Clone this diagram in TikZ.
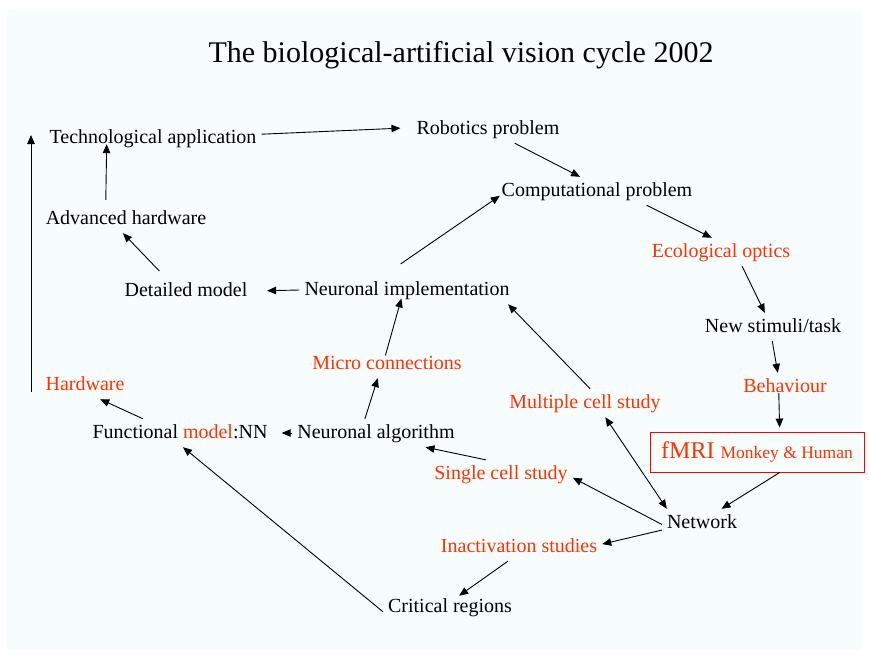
\documentclass[tikz,border=0pt]{standalone}
\usepackage{fontspec}
\setmainfont{Liberation Serif}
\usetikzlibrary{positioning}
\usetikzlibrary{arrows.meta}
\definecolor{slidered}{RGB}{255,51,0}
\definecolor{slidebg}{RGB}{247,252,253}
\tikzset{
    mynode/.style = {inner sep=5pt, text height=14pt, text depth=4pt, font=\fontsize{20}{24}\selectfont},
    mynoder/.style = {mynode, text=slidered},
    fmrinode/.style = {draw=red, line width=0.9pt, text=slidered, minimum width=214pt, minimum height=40pt, inner sep=0pt, text height=16.5pt, text depth=3.5pt},
    edgen/.style = {-{Triangle[length=9pt,width=7.5pt]}, line width=0.9pt},
    edged/.style = {{Triangle[length=9pt,width=7.5pt]}-{Triangle[length=9pt,width=7.5pt]}, line width=0.9pt}
}

\begin{document}
\begin{tikzpicture}[x=1pt, y=-1pt]
  \useasboundingbox (0,0) rectangle (869,659);
  \fill[slidebg] (7,10) rectangle (862,650);

  \node[font=\fontsize{30}{36}\selectfont] (title) at (461,55) {The biological-artificial vision cycle 2002};

  \node[mynode] (tech) at (153,138) {Technological application};
  \node[mynode] (robot) at (488,129) {Robotics problem};
  \node[mynode] (comp) at (597,191) {Computational problem};
  \node[mynoder] (eco) at (721,252) {Ecological optics};
  \node[mynode] (newst) at (773,327) {New stimuli/task};
  \node[mynoder] (behav) at (785,387) {Behaviour};
  \node[fmrinode] (fmri) at (757,452) {{\fontsize{24}{28}\selectfont fMRI\hspace{6pt}}{\fontsize{17.5}{20}\selectfont Monkey \& Human}};
  \node[mynode] (net) at (702,523) {Network};
  \node[mynoder] (multi) at (585,403) {Multiple cell study};
  \node[mynoder] (single) at (501,474) {Single cell study};
  \node[mynoder] (inact) at (519,547) {Inactivation studies};
  \node[mynode] (crit) at (450,607) {Critical regions};
  \node[mynode] (nalg) at (376,433) {Neuronal algorithm};
  \node[mynode] (func) at (180,433) {Functional \textcolor{slidered}{model}:NN};
  \node[mynoder] (micro) at (387,364) {Micro connections};
  \node[mynode] (nimp) at (407,290) {Neuronal implementation};
  \node[mynode] (detail) at (186,291) {Detailed model};
  \node[mynode] (adv) at (126,219) {Advanced hardware};
  \node[mynoder] (hw) at (85,385) {Hardware};
  \coordinate (hwfoot) at (31,392);
  \coordinate (hwtop) at (31,135);

  % outer loop
  \draw[edgen, shorten >=11pt] (tech.2) -- (robot.179);
  \draw[edgen] (robot.-28) -- (comp.140);
  \draw[edgen] (comp.-16) -- (eco.123);
  \draw[edgen] (eco.-34) -- (newst.120);
  \draw[edgen] (newst.-93) -- (behav.117);
  \draw[edgen, shorten <=-8pt, shorten >=4pt] (behav.-113) -- (fmri.42);
  \draw[edgen] (fmri.-42) -- (net.36);
  % studies
  \draw[edged] (multi.-35) -- (net.158);
  \draw[edgen] (net.182) -- (single.-3);
  \draw[edgen] (net.190) -- (inact.2);
  \draw[edgen, shorten >=-5pt] (inact.-128) -- (crit.47);
  \draw[edgen] (crit.184) -- (func.-78);
  \draw[edgen] (single.137) -- (nalg.-16);
  \draw[edgen] (multi.70) -- (nimp.-8);
  % models
  \draw[edgen, shorten >=9pt] (nalg.west) -- (func.east);
  \draw[edgen] (nalg.128) -- (micro.-123);
  \draw[edgen, shorten <=-6pt, shorten >=-6pt] (micro.north) -- (nimp.-117);
  \draw[edgen, shorten <=21pt, shorten >=-4pt] (nimp.149) -- (comp.184);
  \draw[edgen, shorten >=14.5pt] (nimp.west) -- (detail.east);
  \draw[edgen, shorten <=8pt] (detail.146) -- (adv.-102);
  \draw[edgen, shorten <=5pt, shorten >=-8pt] (adv.145) -- (tech.-163);
  \draw[edgen] (func.159) -- (hw.-43);
  \draw[edgen] (hwfoot) -- (hwtop);
\end{tikzpicture}
\end{document}
